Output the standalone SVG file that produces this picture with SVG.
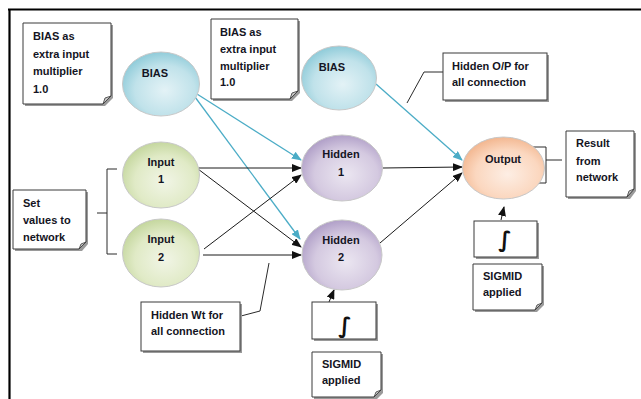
<svg xmlns="http://www.w3.org/2000/svg" width="641" height="399" viewBox="0 0 641 399">
<defs>
  <radialGradient id="gBias" cx="0.55" cy="0.6" r="0.65">
    <stop offset="0" stop-color="#e3f2f6"/>
    <stop offset="0.6" stop-color="#c0e2ea"/>
    <stop offset="1" stop-color="#86c7d6"/>
  </radialGradient>
  <radialGradient id="gInput" cx="0.55" cy="0.6" r="0.65">
    <stop offset="0" stop-color="#f1f5e6"/>
    <stop offset="0.6" stop-color="#e0eac6"/>
    <stop offset="1" stop-color="#bfd396"/>
  </radialGradient>
  <radialGradient id="gHidden" cx="0.55" cy="0.6" r="0.65">
    <stop offset="0" stop-color="#ebe6f1"/>
    <stop offset="0.6" stop-color="#d4c9e0"/>
    <stop offset="1" stop-color="#a997c3"/>
  </radialGradient>
  <radialGradient id="gOutput" cx="0.55" cy="0.6" r="0.65">
    <stop offset="0" stop-color="#fdeee4"/>
    <stop offset="0.6" stop-color="#fbd7bf"/>
    <stop offset="1" stop-color="#f1b086"/>
  </radialGradient>
  <marker id="ab" markerUnits="userSpaceOnUse" markerWidth="10" markerHeight="8" refX="9" refY="4" orient="auto">
    <path d="M0,0 L10,4 L0,8 Z" fill="#111"/>
  </marker>
  <marker id="ac" markerUnits="userSpaceOnUse" markerWidth="10" markerHeight="8" refX="9" refY="4" orient="auto">
    <path d="M0,0 L10,4 L0,8 Z" fill="#4bacc6"/>
  </marker>
</defs>
<style>
  .t{font-family:"Liberation Sans",Arial,sans-serif;font-weight:bold;font-size:11px;fill:#141423}
  .m{text-anchor:middle}
  .box{fill:#fff;stroke:#3a3a3a;stroke-width:1}
  .sh{fill:#9a9a9a}
  .fold{fill:#c8c8c8;stroke:#3a3a3a;stroke-width:0.8}
  .ell{stroke:#c8c8c8;stroke-width:1}
  .blk{stroke:#1a1a1a;stroke-width:1;fill:none}
  .cy{stroke:#4bacc6;stroke-width:1.3;fill:none}
  .ld{stroke:#2a2a2a;stroke-width:1;fill:none}
  .int{font-family:"DejaVu Sans",sans-serif;font-weight:bold;font-size:22px;fill:#111;text-anchor:middle}
</style>
<rect width="641" height="399" fill="#fff"/>
<path d="M8,9.5 H641 M9.5,9 V399" stroke="#000" stroke-width="2.2" fill="none"/>

<g id="connectors">
  <line class="cy" x1="197" y1="94" x2="301" y2="160" marker-end="url(#ac)"/>
  <line class="cy" x1="195" y1="97" x2="300" y2="239" marker-end="url(#ac)"/>
  <line class="cy" x1="376" y1="84" x2="462" y2="160" marker-end="url(#ac)"/>
  <line class="blk" x1="198" y1="168" x2="301" y2="168" marker-end="url(#ab)"/>
  <line class="blk" x1="198" y1="169" x2="301" y2="247" marker-end="url(#ab)"/>
  <line class="blk" x1="204" y1="249" x2="301" y2="175" marker-end="url(#ab)"/>
  <line class="blk" x1="203" y1="255" x2="301" y2="255" marker-end="url(#ab)"/>
  <line class="blk" x1="383" y1="168" x2="462" y2="167" marker-end="url(#ab)"/>
  <line class="blk" x1="380" y1="243" x2="462" y2="173" marker-end="url(#ab)"/>
  <line class="blk" x1="501" y1="220" x2="504" y2="207" marker-end="url(#ab)"/>
  <line class="blk" x1="329" y1="302" x2="334" y2="290" marker-end="url(#ab)"/>
  <path class="ld" d="M443,72 H424 L407,103"/>
  <path class="ld" d="M241,316 L260,311 L269,263"/>
  <path class="ld" d="M97,213 H107 M117,169 H107 V254 H117"/>
  <path class="ld" d="M533,147 H546 V183 H533 M546,160 H562"/>
</g>

<g id="note-bias1">
  <path class="sh" d="M25,25 H113 V98 L105,106 H25 Z"/>
  <path class="box" d="M23,23 H111 V96 L103,104 H23 Z"/>
  <path class="fold" d="M111,96 L103,104 L105,98 Z"/>
  <text class="t" x="33" y="40">BIAS as</text>
  <text class="t" x="33" y="57.5">extra input</text>
  <text class="t" x="33" y="75">multiplier</text>
  <text class="t" x="33" y="92.5">1.0</text>
</g>

<g id="note-bias2">
  <path class="sh" d="M213,21 H300 V93 L292,101 H213 Z"/>
  <path class="box" d="M211,19 H298 V91 L290,99 H211 Z"/>
  <path class="fold" d="M298,91 L290,99 L292,93 Z"/>
  <text class="t" x="220" y="36">BIAS as</text>
  <text class="t" x="220" y="53">extra input</text>
  <text class="t" x="220" y="70">multiplier</text>
  <text class="t" x="220" y="86">1.0</text>
</g>

<g id="note-hidden-op">
  <rect class="sh" x="445" y="55" width="104" height="47"/>
  <rect class="box" x="443" y="53" width="104" height="47"/>
  <text class="t" x="452" y="70">Hidden O/P for</text>
  <text class="t" x="452" y="86">all connection</text>
</g>

<g id="note-result">
  <path class="sh" d="M568,133 H636 V191 L630,199 H568 Z"/>
  <path class="box" d="M566,131 H634 V189 L627,197 H566 Z"/>
  <path class="fold" d="M634,189 L627,197 L629,191 Z"/>
  <text class="t" x="576" y="147">Result</text>
  <text class="t" x="576" y="164.5">from</text>
  <text class="t" x="576" y="181">network</text>
</g>

<g id="note-set">
  <path class="sh" d="M15,192 H88 V244 L82,251 H15 Z"/>
  <path class="box" d="M13,190 H86 V242 L79,249 H13 Z"/>
  <path class="fold" d="M86,242 L79,249 L81,244 Z"/>
  <text class="t" x="23" y="207">Set</text>
  <text class="t" x="23" y="224">values to</text>
  <text class="t" x="23" y="241">network</text>
</g>

<g id="note-hidden-wt">
  <rect class="sh" x="143" y="304" width="99" height="49"/>
  <rect class="box" x="141" y="302" width="99" height="49"/>
  <text class="t" x="151" y="319">Hidden Wt for</text>
  <text class="t" x="151" y="335">all connection</text>
</g>

<g id="sigmoid-out">
  <rect class="sh" x="476" y="223" width="63" height="36"/>
  <rect class="box" x="474" y="221" width="63" height="36"/>
  <text class="int" x="505" y="247">∫</text>
</g>

<g id="note-sigmid-out">
  <path class="sh" d="M475,266 H544 V305 L537,312 H475 Z"/>
  <path class="box" d="M473,264 H542 V303 L535,310 H473 Z"/>
  <path class="fold" d="M542,303 L535,310 L537,305 Z"/>
  <text class="t" x="483" y="280">SIGMID</text>
  <text class="t" x="483" y="296">applied</text>
</g>

<g id="sigmoid-hidden">
  <rect class="sh" x="314" y="304" width="64" height="37"/>
  <rect class="box" x="312" y="302" width="64" height="37"/>
  <text class="int" x="345" y="333">∫</text>
</g>

<g id="note-sigmid-hidden">
  <path class="sh" d="M314,354 H383 V393 L376,400 H314 Z"/>
  <path class="box" d="M312,352 H381 V390 L374,397 H312 Z"/>
  <path class="fold" d="M381,390 L374,397 L376,392 Z"/>
  <text class="t" x="322" y="368">SIGMID</text>
  <text class="t" x="322" y="384">applied</text>
</g>

<g id="bias1">
  <ellipse class="ell" cx="161" cy="84" rx="38.5" ry="32" fill="url(#gBias)"/>
  <text class="t m" x="155" y="77">BIAS</text>
</g>
<g id="bias2">
  <ellipse class="ell" cx="339" cy="78" rx="37.5" ry="32" fill="url(#gBias)"/>
  <text class="t m" x="332" y="71">BIAS</text>
</g>
<g id="input1">
  <ellipse class="ell" cx="161" cy="175" rx="38.5" ry="33" fill="url(#gInput)"/>
  <text class="t m" x="161" y="166">Input</text>
  <text class="t m" x="161" y="183">1</text>
</g>
<g id="input2">
  <ellipse class="ell" cx="161" cy="253" rx="38.5" ry="34" fill="url(#gInput)"/>
  <text class="t m" x="161" y="243">Input</text>
  <text class="t m" x="161" y="261">2</text>
</g>
<g id="hidden1">
  <ellipse class="ell" cx="342" cy="168" rx="40.5" ry="33" fill="url(#gHidden)"/>
  <text class="t m" x="341" y="158">Hidden</text>
  <text class="t m" x="341" y="176">1</text>
</g>
<g id="hidden2">
  <ellipse class="ell" cx="342" cy="255" rx="40" ry="35" fill="url(#gHidden)"/>
  <text class="t m" x="341" y="244">Hidden</text>
  <text class="t m" x="341" y="261">2</text>
</g>
<g id="output">
  <ellipse class="ell" cx="503.5" cy="168" rx="41" ry="31" fill="url(#gOutput)"/>
  <text class="t m" x="503" y="163">Output</text>
</g>
</svg>
